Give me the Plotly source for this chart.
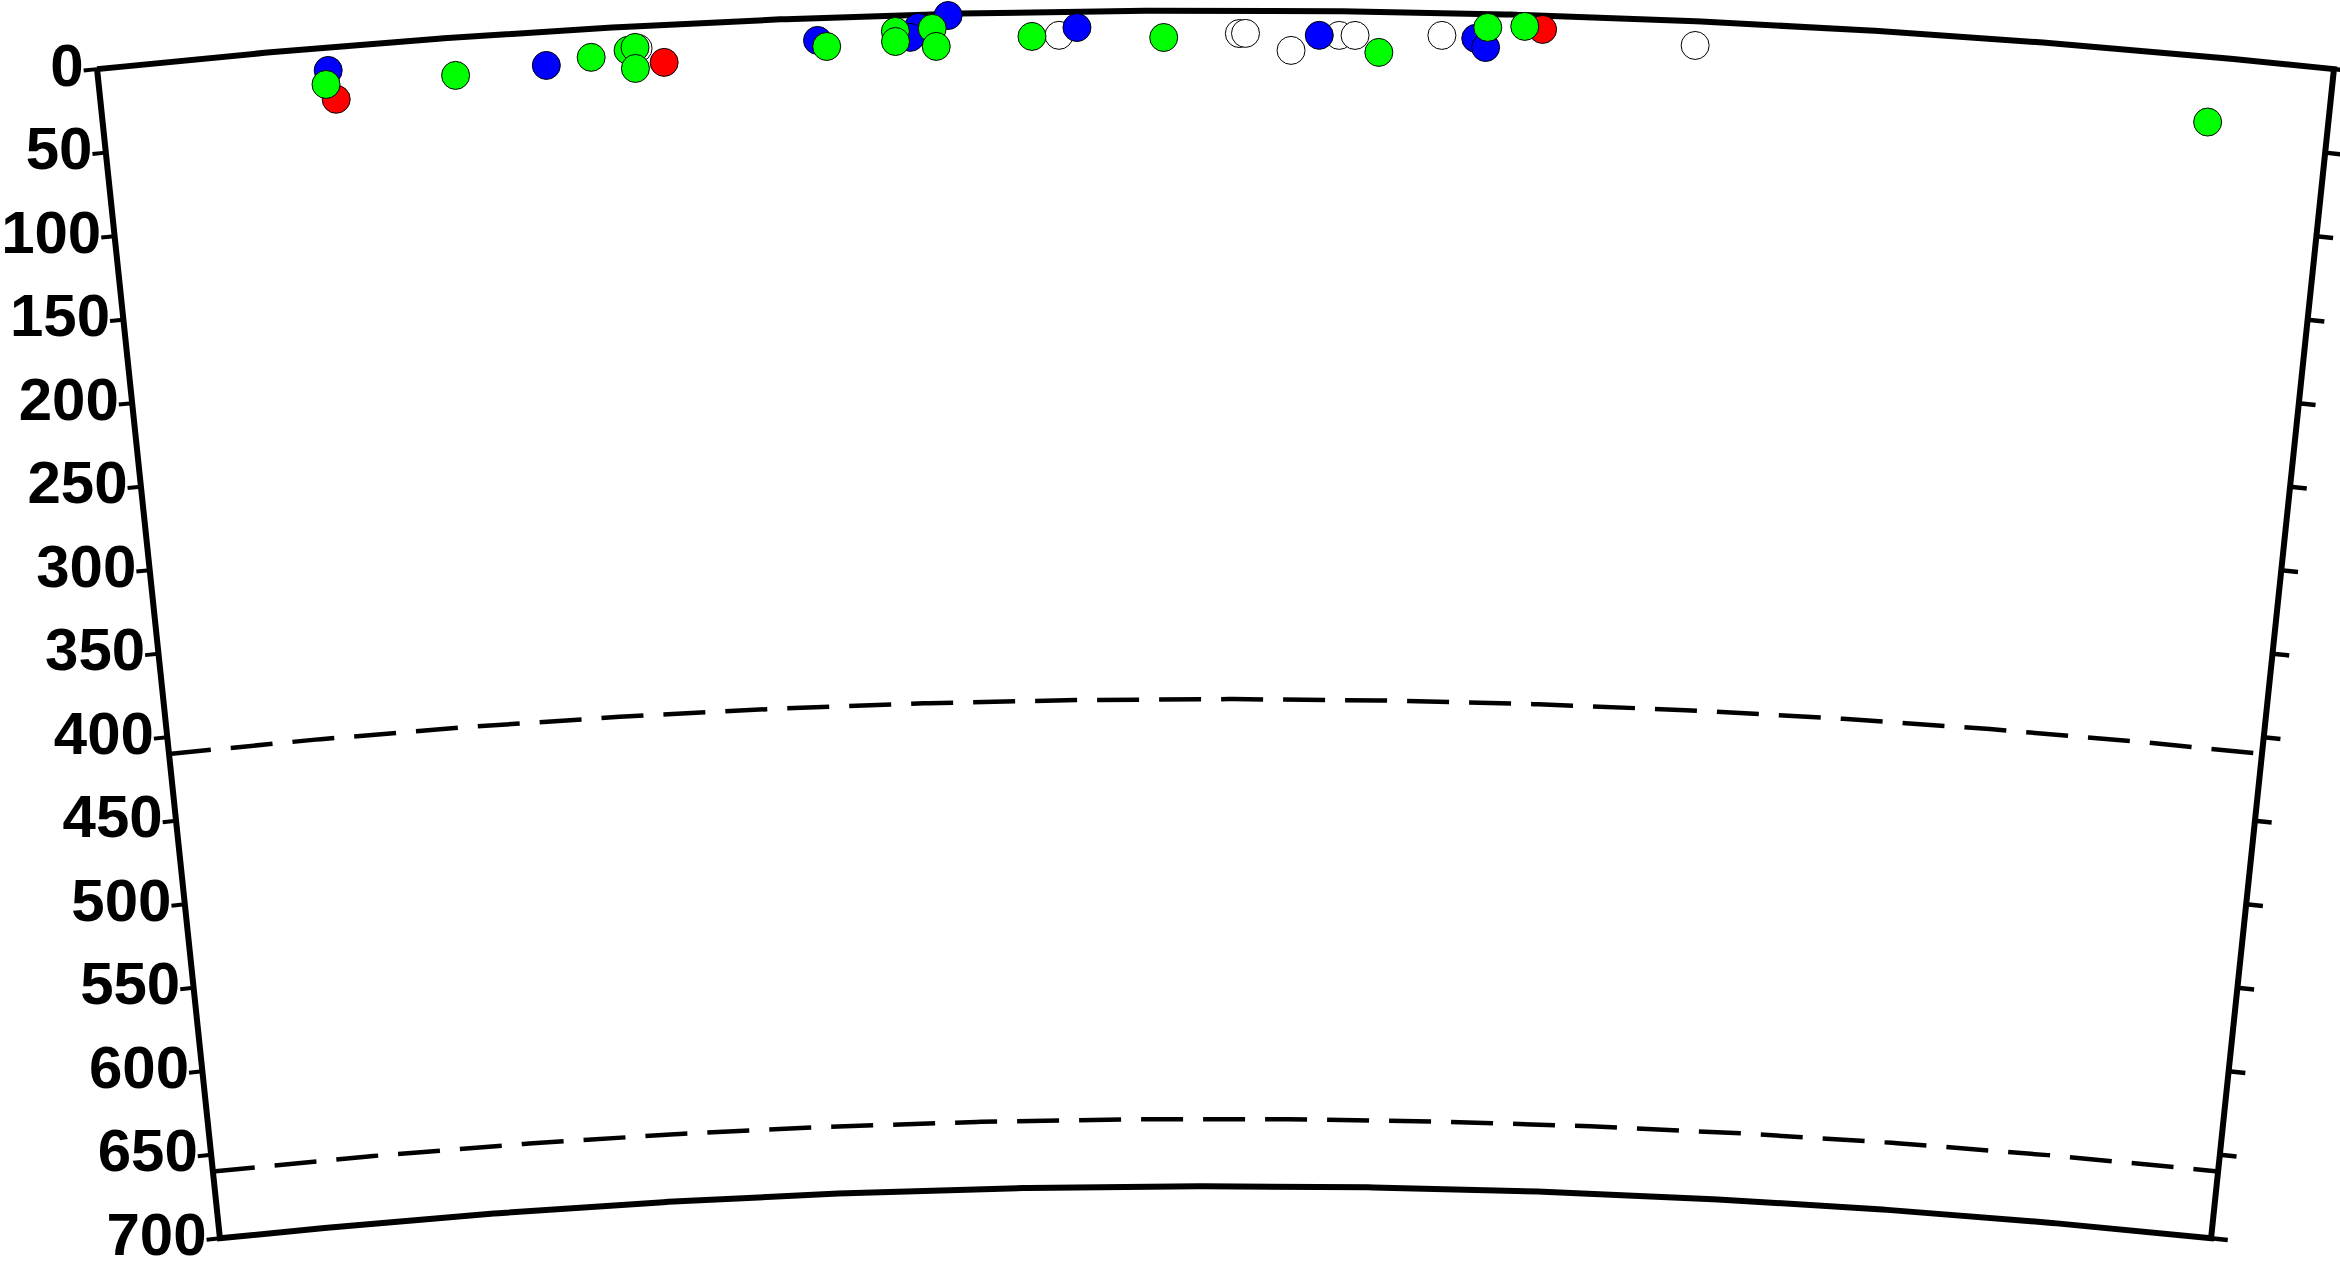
import numpy as np
import plotly.graph_objects as go

# ---------------- data ----------------
EARTH_R = 6371.0          # km
MAX_DEPTH = 700.0         # km
PROFILE_SPAN = 12.0       # degrees of arc along the profile

DEPTH_TICKS = [0, 50, 100, 150, 200, 250, 300, 350, 400, 450, 500, 550, 600, 650, 700]
DEPTH_LABELS = [str(d) for d in DEPTH_TICKS]
DISCONTINUITIES = [410, 660]

# events: distance along profile (deg from left edge), depth (km)
white_dist = [2.900, 5.160, 6.128, 6.161, 6.406, 6.664, 6.749, 7.215, 8.575]
white_depth = [13.2, 14.1, 13.7, 13.6, 23.6, 14.4, 14.3, 13.4, 14.4]

red_dist = [1.263, 3.036, 7.754]
red_depth = [31.2, 22.4, 8.3]

blue_dist = [1.233, 2.403, 3.864, 4.406, 4.362, 4.568, 5.257, 6.557, 7.397, 7.451]
blue_depth = [13.7, 20.2, 13.4, 7.6, 13.4, 1.0, 9.6, 14.5, 14.7, 20.0]

green_dist = [1.215, 1.913, 2.646, 2.846, 2.884, 2.880, 3.912, 4.283, 4.282, 4.481,
              4.500, 5.015, 5.722, 6.878, 7.460, 7.658, 11.353]
green_depth = [21.9, 22.5, 17.0, 14.1, 12.6, 25.1, 17.2, 9.6, 15.6, 8.4,
               19.2, 14.5, 16.0, 24.2, 8.0, 6.8, 38.8]

# ---------------- geometry helpers ----------------
W, H = 2340, 1262
PX_PER_KM = 10700.0 / EARTH_R
CENTER_PX = 1215.5
TOP_PX = 10.5


def to_xy(dist_deg, depth):
    phi = np.radians(np.asarray(dist_deg, float) - PROFILE_SPAN / 2.0)
    r = EARTH_R - np.asarray(depth, float)
    return r * np.sin(phi), r * np.cos(phi)


fig = go.Figure()

# outline of the cross-section
arc = np.linspace(0, PROFILE_SPAN, 400)
ox_d = np.concatenate([arc, [PROFILE_SPAN, PROFILE_SPAN], arc[::-1], [0, 0]])
ox_z = np.concatenate([np.zeros_like(arc), [0, MAX_DEPTH], np.full_like(arc, MAX_DEPTH), [MAX_DEPTH, 0]])
ox, oy = to_xy(ox_d, ox_z)
fig.add_trace(go.Scatter(x=ox, y=oy, mode="lines",
                         line=dict(color="black", width=6), hoverinfo="skip"))

# discontinuities (dashed)
for d in DISCONTINUITIES:
    dx, dy = to_xy(arc, np.full_like(arc, d))
    fig.add_trace(go.Scatter(x=dx, y=dy, mode="lines",
                             line=dict(color="black", width=4.5, dash="42px,20px"),
                             hoverinfo="skip"))

# ticks on both sides (perpendicular to the radial edges)
TICK_LEFT_KM = 8.0
TICK_RIGHT_KM = 10.0
lx, ly, rx, ry, labx, laby = [], [], [], [], [], []
phiL = np.radians(-PROFILE_SPAN / 2)
phiR = np.radians(PROFILE_SPAN / 2)
for d in DEPTH_TICKS:
    x0, y0 = to_xy(0.0, d)
    x1 = x0 - TICK_LEFT_KM * np.cos(phiL)
    y1 = y0 + TICK_LEFT_KM * np.sin(phiL)
    lx += [x0, x1, None]
    ly += [y0, y1, None]
    labx.append(x1)
    laby.append(y1)
    x0, y0 = to_xy(PROFILE_SPAN, d)
    x1 = x0 + TICK_RIGHT_KM * np.cos(phiR)
    y1 = y0 - TICK_RIGHT_KM * np.sin(phiR)
    rx += [x0, x1, None]
    ry += [y0, y1, None]
fig.add_trace(go.Scatter(x=lx, y=ly, mode="lines", line=dict(color="black", width=4),
                         hoverinfo="skip"))
fig.add_trace(go.Scatter(x=rx, y=ry, mode="lines", line=dict(color="black", width=4.5),
                         hoverinfo="skip"))
fig.add_trace(go.Scatter(x=labx, y=laby, mode="text", text=DEPTH_LABELS,
                         textposition="middle left",
                         textfont=dict(family="Liberation Sans", size=60, color="black",
                                       weight="bold"),
                         hoverinfo="skip"))

# events
for dist, dep, col in [(white_dist, white_depth, "#ffffff"),
                       (red_dist, red_depth, "#ff0000"),
                       (blue_dist, blue_depth, "#0000ff"),
                       (green_dist, green_depth, "#00ff00")]:
    ex, ey = to_xy(dist, dep)
    fig.add_trace(go.Scatter(x=ex, y=ey, mode="markers",
                             marker=dict(size=28, color=col,
                                         line=dict(color="black", width=1)),
                             cliponaxis=False))

xr = [(0 - CENTER_PX) / PX_PER_KM, (W - CENTER_PX) / PX_PER_KM]
yr = [EARTH_R - (H - TOP_PX) / PX_PER_KM, EARTH_R + TOP_PX / PX_PER_KM]

fig.update_layout(
    width=W, height=H,
    margin=dict(l=0, r=0, t=0, b=0),
    paper_bgcolor="white", plot_bgcolor="white",
    showlegend=False,
    xaxis=dict(visible=False, range=xr, fixedrange=True),
    yaxis=dict(visible=False, range=yr, fixedrange=True),
)

fig.write_html("out.html",
               config={"displayModeBar": False},
               post_script="document.body.style.margin='0';document.body.style.overflow='hidden';")
